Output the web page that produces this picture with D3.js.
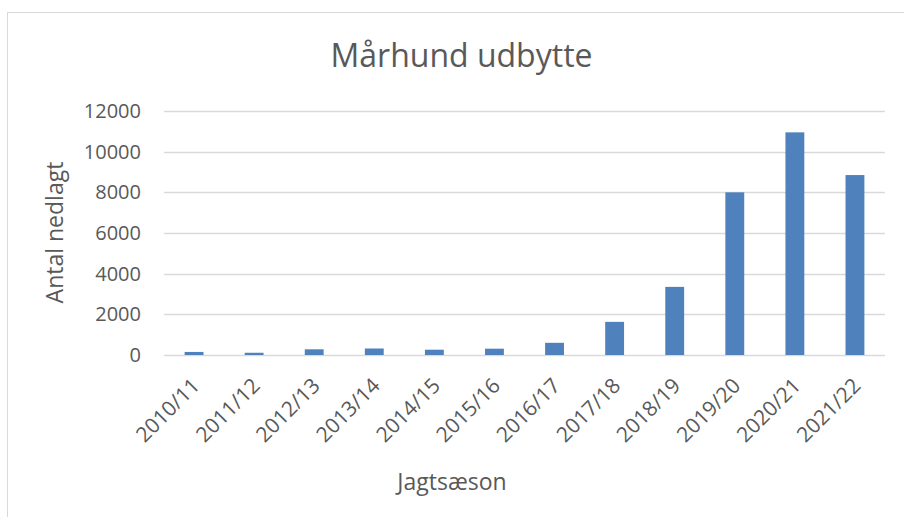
<!DOCTYPE html>
<html>
<head>
<meta charset="utf-8">
<script src="https://cdn.jsdelivr.net/npm/d3@7"></script>
<style>
  body { margin: 0; background: #fff; }
  svg { display: block; font-family: "Open Sans", sans-serif; }
</style>
</head>
<body>
<svg id="chart"></svg>
<script>
const seasons = ['2010/11', '2011/12', '2012/13', '2013/14', '2014/15', '2015/16',
                 '2016/17', '2017/18', '2018/19', '2019/20', '2020/21', '2021/22'];
const harvest = [150, 110, 280, 320, 260, 310, 600, 1630, 3350, 8000, 10950, 8850];
const yTicks = [0, 2000, 4000, 6000, 8000, 10000, 12000];

const width = 904, height = 517;
const margin = { left: 164, right: 19, top: 111, bottom: 162 };

const svg = d3.select('#chart')
    .attr('width', width)
    .attr('height', height);

// chart frame (runs off the right and bottom of the picture)
svg.append('rect')
    .attr('x', 7.5).attr('y', 12.5)
    .attr('width', 1000).attr('height', 1000)
    .attr('fill', 'none')
    .attr('stroke', '#d9d9d9');

const x = d3.scaleBand()
    .domain(seasons)
    .range([margin.left, width - margin.right])
    .paddingInner(0.686)
    .paddingOuter(0.343);

const y = d3.scaleLinear()
    .domain([0, 12000])
    .range([height - margin.bottom, margin.top]);

// gridlines
svg.append('g')
    .selectAll('line')
    .data(yTicks)
    .join('line')
    .attr('x1', margin.left)
    .attr('x2', width - margin.right)
    .attr('y1', d => Math.round(y(d)) + 0.5)
    .attr('y2', d => Math.round(y(d)) + 0.5)
    .attr('stroke', '#d9d9d9')
    .attr('stroke-width', 1.3);

// y tick labels
svg.append('g')
    .selectAll('text')
    .data(yTicks)
    .join('text')
    .attr('x', 141)
    .attr('y', d => y(d) + 7)
    .attr('text-anchor', 'end')
    .attr('font-size', 20)
    .attr('fill', '#595959')
    .text(d => d);

// bars
svg.append('g')
    .selectAll('rect')
    .data(harvest)
    .join('rect')
    .attr('x', (d, i) => x(seasons[i]))
    .attr('width', x.bandwidth())
    .attr('y', d => y(d))
    .attr('height', d => y(0) - y(d))
    .attr('fill', '#4f81bd');

// x tick labels, rotated
svg.append('g')
    .selectAll('text')
    .data(seasons)
    .join('text')
    .attr('transform', d => `translate(${x(d) + x.bandwidth() / 2 + 7},387) rotate(-45)`)
    .attr('text-anchor', 'end')
    .attr('font-size', 21)
    .attr('fill', '#595959')
    .text(d => d);

// titles
svg.append('text')
    .attr('x', 461.5).attr('y', 67)
    .attr('text-anchor', 'middle')
    .attr('font-size', 32)
    .attr('fill', '#595959')
    .text('Mårhund udbytte');

svg.append('text')
    .attr('x', 452).attr('y', 490)
    .attr('text-anchor', 'middle')
    .attr('font-size', 23)
    .attr('fill', '#595959')
    .text('Jagtsæson');

svg.append('text')
    .attr('transform', 'translate(63,232.5) rotate(-90)')
    .attr('text-anchor', 'middle')
    .attr('font-size', 23)
    .attr('fill', '#595959')
    .text('Antal nedlagt');
</script>
</body>
</html>
